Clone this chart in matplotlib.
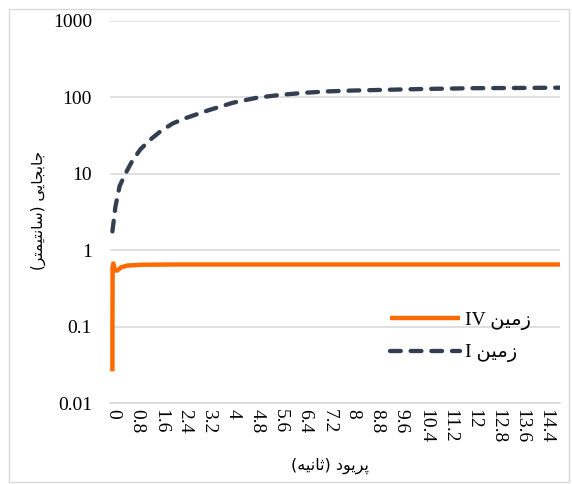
import numpy as np
import matplotlib
matplotlib.use('Agg')
import matplotlib.pyplot as plt
from matplotlib.patches import Rectangle

# data
x_tick_values = [0, 0.8, 1.6, 2.4, 3.2, 4, 4.8, 5.6, 6.4, 7.2, 8, 8.8, 9.6, 10.4, 11.2, 12, 12.8, 13.6, 14.4]
x_tick_labels = ['0', '0.8', '1.6', '2.4', '3.2', '4', '4.8', '5.6', '6.4', '7.2', '8',
                 '8.8', '9.6', '10.4', '11.2', '12', '12.8', '13.6', '14.4']
y_tick_values = [0.01, 0.1, 1, 10, 100, 1000]
y_tick_labels = ['0.01', '0.1', '1', '10', '100', '1000']

# زمین I (dashed)
t_soil1 = [0, 0.1, 0.24, 0.43, 0.65, 0.93, 1.26, 1.6, 2.0, 2.4, 3.2, 4.0, 4.8, 5.6,
           6.4, 7.2, 8.0, 8.8, 10.4, 12.0, 13.6, 14.9]
d_soil1 = [1.76, 3.7, 6.9, 10, 14.5, 20.9, 28, 36, 45.5, 53, 68, 85, 99, 108,
           115, 120, 123, 125, 129, 132, 133, 134]

# زمین IV (solid)
t_soil4 = [0, 0.005, 0.03, 0.08, 0.15, 0.3, 0.5, 1.0, 2.0, 14.9]
d_soil4 = [0.026, 0.6, 0.67, 0.55, 0.54, 0.6, 0.63, 0.645, 0.65, 0.65]

# --- simple persian shaping (matplotlib has no complex text layout) ---
FORMS = {  # isolated, final, initial, medial
    'ا': ('\uFE8D', '\uFE8E', None, None),
    'ب': ('\uFE8F', '\uFE90', '\uFE91', '\uFE92'),
    'پ': ('\uFB56', '\uFB57', '\uFB58', '\uFB59'),
    'ت': ('\uFE95', '\uFE96', '\uFE97', '\uFE98'),
    'ث': ('\uFE99', '\uFE9A', '\uFE9B', '\uFE9C'),
    'ج': ('\uFE9D', '\uFE9E', '\uFE9F', '\uFEA0'),
    'د': ('\uFEA9', '\uFEAA', None, None),
    'ر': ('\uFEAD', '\uFEAE', None, None),
    'ز': ('\uFEAF', '\uFEB0', None, None),
    'س': ('\uFEB1', '\uFEB2', '\uFEB3', '\uFEB4'),
    'م': ('\uFEE1', '\uFEE2', '\uFEE3', '\uFEE4'),
    'ن': ('\uFEE5', '\uFEE6', '\uFEE7', '\uFEE8'),
    'ه': ('\uFEE9', '\uFEEA', '\uFEEB', '\uFEEC'),
    'و': ('\uFEED', '\uFEEE', None, None),
    'ی': ('\uFEEF', '\uFEF0', '\uFEF3', '\uFEF4'),
}
MIRROR = {'(': ')', ')': '('}


def rtl(text):
    out = []
    for i, ch in enumerate(text):
        if ch not in FORMS:
            out.append(ch)
            continue
        prev = text[i - 1] if i > 0 else None
        nxt = text[i + 1] if i + 1 < len(text) else None
        jp = prev in FORMS and FORMS[prev][2] is not None
        jn = nxt in FORMS and FORMS[ch][2] is not None
        f = FORMS[ch]
        if jp and jn:
            out.append(f[3])
        elif jp:
            out.append(f[1])
        elif jn:
            out.append(f[2])
        else:
            out.append(f[0])
    return ''.join(MIRROR.get(c, c) for c in reversed(out))


fams = ['Liberation Serif', 'DejaVu Sans']
plt.rcParams['font.family'] = fams

fig = plt.figure(figsize=(5.72, 4.84), dpi=100)
ax = fig.add_axes([110 / 572, 1 - 403 / 484, 450 / 572, 382 / 484])

ax.plot(t_soil4, d_soil4, color='#FF6A00', lw=3.2, solid_capstyle='butt',
        solid_joinstyle='round', label='IV ' + rtl('زمین'))
ax.plot(t_soil1, d_soil1, color='#333F50', lw=3.1, dashes=(2.5, 2.3),
        dash_capstyle='round', label='I ' + rtl('زمین'))

ax.set_yscale('log')
ax.set_ylim(0.01, 1000)
ax.set_xlim(-0.08, 14.88)
ax.set_yticks(y_tick_values)
ax.set_yticklabels(y_tick_labels, fontsize=14)
ax.minorticks_off()
ax.set_xticks(x_tick_values)
ax.set_xticklabels(x_tick_labels, fontsize=14, rotation=270, va='top', ha='center')
ax.tick_params(axis='both', length=0)
ax.tick_params(axis='y', pad=13)
ax.tick_params(axis='x', pad=4)
ax.grid(axis='y', color='#D9D9D9', lw=1.2)
ax.set_axisbelow(True)
for s in ['left', 'right', 'top']:
    ax.spines[s].set_visible(False)
ax.spines['bottom'].set_color('#D9D9D9')
ax.spines['bottom'].set_linewidth(1.2)

fig.text(38 / 572, 1 - 210 / 484, rtl('جابجایی (سانتیمتر)'), rotation=90,
         ha='center', va='center', fontsize=11, family='DejaVu Sans')
fig.text(330 / 572, 1 - 466 / 484, rtl('پریود (ثانیه)'), ha='center', va='center',
         fontsize=11.5, family='DejaVu Sans')

leg = ax.legend(loc='upper left', bbox_to_anchor=(372 / 572, 1 - 294 / 484),
                bbox_transform=fig.transFigure, frameon=False, fontsize=14,
                handlelength=3.6, handletextpad=0.3, labelspacing=0.7)

fig.patches.append(Rectangle((9 / 572, 2 / 484), 560 / 572, 473 / 484,
                             transform=fig.transFigure, fill=False,
                             edgecolor='#D9D9D9', lw=1.0))

fig.savefig('out.png', dpi=100)
